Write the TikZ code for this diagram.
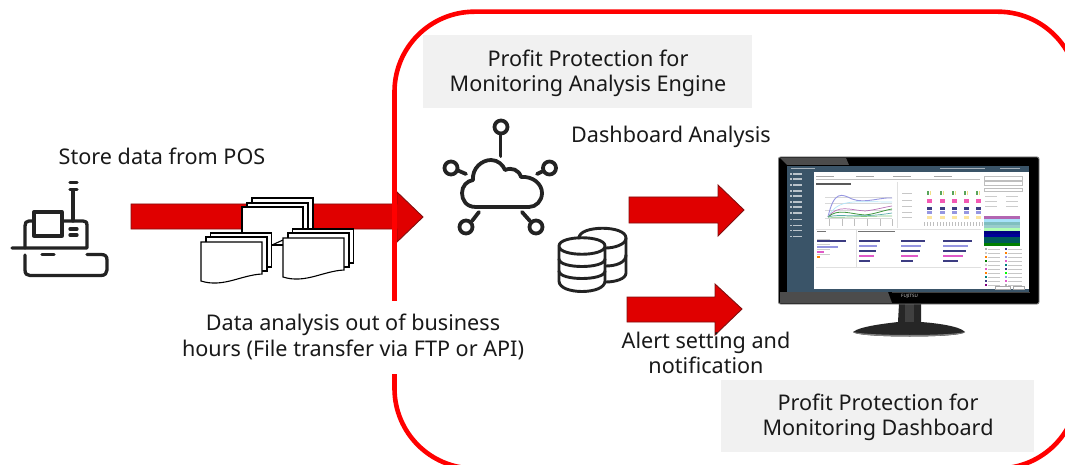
\documentclass[tikz,border=0pt]{standalone}
\usepackage{fontspec}
\setmainfont{Noto Sans}
\definecolor{fred}{RGB}{224,0,0}
\definecolor{fdark}{RGB}{130,15,15}
\definecolor{frame}{RGB}{255,0,0}
\definecolor{ink}{RGB}{35,35,35}
\definecolor{panel}{RGB}{241,241,241}
\definecolor{side}{RGB}{58,84,104}
\definecolor{navy}{RGB}{60,60,130}
\definecolor{peri}{RGB}{150,150,225}
\definecolor{pink}{RGB}{225,90,200}
\tikzset{
 lab/.style={font=\fontsize{21.6}{25.2}\selectfont,align=center,text=black!90,inner sep=0pt},
 bigarrow/.style={fill=fred,draw=fdark,line width=.9pt,line join=miter},
 icon/.style={draw=ink,line width=3.3pt,line cap=round,line join=round},
 hub/.style={draw=ink,line width=3.8pt,line cap=round,line join=round},
 db/.style={draw=ink,line width=2.9pt,line cap=round,line join=round},
 sheet/.style={fill=white,draw=black,line width=1.1pt,line join=miter},
}
\newcommand{\fileset}[3]{%
 \begin{scope}[shift={(#1,#2)},scale=#3]
  \draw[sheet] (9.5,-9) rectangle (70.5,25);
  \draw[sheet] (5,-5) rectangle (66,29);
  \draw[sheet] (0,0) -- (61,0) -- (61,32) .. controls (40,33) and (22,46) .. (0,39) -- cycle;
 \end{scope}}
\begin{document}
\begin{tikzpicture}[x=1pt,y=-1pt]
\useasboundingbox (0,0) rectangle (1065,465);
\fill[white] (0,0) rectangle (1065,465);
% arrow 1
\draw[bigarrow] (131,204) -- (397,204) -- (397,192) -- (423,217) -- (397,242) -- (397,229) -- (131,229) -- cycle;
% frame
\begin{scope}
\clip (0,0) rectangle (1065,465);
\draw[frame,line width=4.6pt,rounded corners=80pt] (394.5,11.7) rectangle (1078,468.5);
\end{scope}
% panels
\fill[panel] (423,35.5) rectangle (752,108);
\fill[panel] (721,380) rectangle (1034,452);
\node[lab] (t1) at (588,73) {Profit Protection for\\Monitoring Analysis Engine};
\node[lab] (t2) at (878,417) {Profit Protection for\\Monitoring Dashboard};
\node[lab] (t3) at (162,156) {Store data from POS};
\node[lab] (t4) at (671,137) {Dashboard Analysis};
\node[lab,fill=white,minimum height=73pt] (t5) at (353,337) {Data analysis out of business\\hours (File transfer via FTP or API)};
% POS icon
\draw[icon] (12,248) -- (87,248) -- (87,226) .. controls (87,222) and (86,221) .. (83,221) -- (62,221);
\draw[icon] (33,221) -- (29,221) .. controls (26,221) and (25,223) .. (25,226) -- (25,248);
\draw[icon] (34,212) rectangle (62,236);
\draw[icon] (73,221) -- (73,190);
\draw[icon] (70,189.5) -- (77,189.5);
\draw[icon] (70,182.5) -- (77,182.5);
\draw[icon] (70,229) -- (77,229);
\draw[icon] (70,235) -- (77,235);
\draw[icon] (25,255) -- (25,270) .. controls (25,274) and (27,275.5) .. (30,275.5) -- (101,275.5) .. controls (105,275.5) and (107,273) .. (107,270) -- (107,260) .. controls (107,256) and (105,254.5) .. (101,254.5) -- (87,254.5);
\draw[icon] (42,254.5) -- (54,254.5);
% files
\draw[sheet] (252,198) rectangle (313,245);
\draw[sheet] (247,203) rectangle (308,245);
\draw[sheet] (242,207) rectangle (303,245);
\draw[sheet] (272,245) -- (283,240);
\fileset{201}{242}{1}
\fileset{283}{238}{1}
% cloud icon
\draw[hub] (476,207) .. controls (466,207) and (462,200) .. (462,193)
  .. controls (462,186) and (467,181) .. (473,180)
  .. controls (472,168) and (482,160) .. (491,160)
  .. controls (498,160) and (503,165) .. (505,170)
  .. controls (512,167) and (519,170) .. (521,177)
  .. controls (533,176) and (542,184) .. (542,193)
  .. controls (542,201) and (536,207) .. (529,207) -- cycle;
\draw[hub] (500.5,156) -- (500.5,135);
\draw[hub] (501,127) circle (6.5);
\draw[hub] (466,174) -- (458,170.5);
\draw[hub] (451,168) circle (6.5);
\draw[hub] (537,174) -- (543,171);
\draw[hub] (549.5,168) circle (6.5);
\draw[hub] (479,212) -- (472,221);
\draw[hub] (466,227) circle (6.5);
\draw[hub] (522,212) -- (530,221);
\draw[hub] (536,227) circle (6.5);
% database icon
\draw[db] (579,238) .. controls (579,225) and (626,225) .. (626,238) -- (626,273) .. controls (626,279) and (615,282) .. (606,282);
\draw[db] (626,238) .. controls (626,245) and (613,248) .. (606,248);
\draw[db] (606,266) .. controls (615,266) and (626,263) .. (626,255);
\fill[white] (560,244) rectangle (604,290);
\draw[db] (559,246) .. controls (559,235) and (605,235) .. (605,246) .. controls (605,257) and (559,257) .. (559,246) -- (559,281) .. controls (559,295) and (605,295) .. (605,281) -- (605,246);
\draw[db] (559,259) .. controls (559,269) and (605,269) .. (605,259);
\draw[db] (559,271) .. controls (559,281) and (605,281) .. (605,271);
% small arrows
\draw[bigarrow] (629,197) -- (718,197) -- (718,185) -- (744,210) -- (718,236) -- (718,223) -- (629,223) -- cycle;
\draw[bigarrow] (627,297) -- (715,297) -- (715,284) -- (742,309) -- (715,335) -- (715,322) -- (627,322) -- cycle;
\node[lab] (t6) at (706,353) {Alert setting and\\notification};
% monitor
\fill[black!85] (853,332) .. controls (860,326) and (890,323) .. (898,322) -- (899,304) -- (921,304) -- (921,322) .. controls (935,323) and (960,326) .. (965,332) .. controls (962,338) and (858,338) .. (853,332) -- cycle;
\fill[black!50] (853,332) .. controls (870,336) and (950,336) .. (965,332) .. controls (960,338) and (858,338) .. (853,332) -- cycle;
\fill[black!75] (905,304) rectangle (914,322);
\fill[black,rounded corners=2pt,draw=black!50,line width=.9pt] (778.5,157) rectangle (1039,304);
\fill[black!70] (780,158) -- (846,158) -- (849,165) -- (787,165) -- cycle;
\fill[black!70] (780,292) -- (888,292) -- (892,303) -- (780,303) -- cycle;
\fill[black!75] (892,292) -- (1030,292) -- (1030,293) -- (892,293) -- cycle;
\fill[white] (787,166) rectangle (1029,291);
\fill[side] (787,166) rectangle (1029,172);
\fill[side] (787,166) rectangle (814,291);
\fill[side] (787,289) rectangle (1029,292);
\foreach \yy in {174,179,185,191,196,202,207,213,219,225,230,236} {
 \fill[white!65!side] (790,\yy-.5) rectangle (792,\yy+.8);
 \fill[white!65!side] (793,\yy-.5) rectangle (802,\yy+.8);
}
\fill[white!55!side] (791,168.5) rectangle (815,169.5);
\fill[white!55!side] (940,168.5) rectangle (985,169.5);
\fill[white!55!side] (1000,168.5) rectangle (1020,169.5);
% filters
\draw[black!25,line width=.4pt] (816,179) -- (980,179);
\foreach \xx in {816,856,893,934} \draw[black!35,line width=.6pt] (\xx,176.5) -- (\xx+18,176.5);
\fill[black!65] (816,183.5) rectangle (851,185.5);
\draw[black!12,line width=.5pt] (816,229) -- (981,229) (816,267) -- (981,267) (856,229) -- (856,267) (897,182) -- (897,228);
% line chart
\draw[black!15,line width=.4pt] (825,197) -- (892,197) (825,203) -- (892,203) (825,210) -- (892,210) (825,218) -- (892,218);
\foreach \xx in {829,842,854,867,880,892} \draw[black!25,line width=.7pt] (\xx,219) -- (\xx,226);
\draw[peri,line width=.9pt] (828,217) .. controls (834,190) and (842,194) .. (852,199) .. controls (865,204) and (880,197) .. (892,198);
\draw[cyan!30,line width=.7pt] (828,217) .. controls (838,198) and (855,202) .. (892,202);
\draw[violet!55,line width=.7pt] (828,217) .. controls (838,204) and (850,210) .. (865,211) .. controls (875,210) and (885,207) .. (892,206);
\draw[green!45!black!75,line width=.8pt] (828,217) .. controls (838,208) and (850,214) .. (865,215) .. controls (875,214) and (885,210) .. (892,209);
\draw[teal!65,line width=.7pt] (828,217) .. controls (840,213) and (855,219) .. (892,213);
\draw[green!55!black!50,line width=.7pt] (828,217) .. controls (842,218) and (860,216) .. (892,216);
% heat matrix
\foreach \yy in {193,200,206,212,217} \fill[black!22] (902,\yy) rectangle (912,\yy+1);
\foreach \cx in {927,940,952,964,976} {
 \fill[green!45!black!65] (\cx,191) rectangle (\cx+2,195);
 \fill[yellow!55!brown!55] (\cx+2.5,191) rectangle (\cx+4,195);
 \fill[magenta!65] (\cx,199) rectangle (\cx+5,203);
 \fill[navy] (\cx,207) rectangle (\cx+5,210);
 \fill[peri] (\cx,211.5) rectangle (\cx+5,214.5);
 \fill[yellow!50!orange!35] (\cx,216) rectangle (\cx+5,219);
 \foreach \dd in {-3,0,3,6} \fill[black!25] (\cx+\dd,222) rectangle (\cx+\dd+.8,226);
}
% lower bars
\foreach \yy/\ww/\cc in {240/29/navy,245.5/21/peri,250.5/7/pink,255.5/3/orange}
  \fill[\cc] (817,\yy) rectangle (817+\ww,\yy+2.2);
\foreach \yy in {238.5,243.5,248.5,253.5} \fill[black!20] (817,\yy) rectangle (830,\yy+.6);
\foreach \xx/\ww in {859/21,901/24,943/29} {
  \fill[navy] (\xx,240) rectangle (\xx+\ww,242.2);
  \fill[peri] (\xx,245) rectangle (\xx+\ww*.85,247.2);
  \fill[navy] (\xx,250) rectangle (\xx+\ww*.8,252.2);
  \fill[pink] (\xx,255) rectangle (\xx+\ww*.7,257.2);
  \fill[navy] (\xx,260) rectangle (\xx+\ww*.5,262.2);
}
\fill[black!55] (858,231) rectangle (895,232);
\fill[black!55] (817,231) rectangle (826,232);
% right column
\draw[black!25,line width=.4pt] (984,176) rectangle (1022,180) (984,181.5) rectangle (1022,185) (984,188) rectangle (1022,191);
\foreach \xx in {985,1006} \foreach \yy in {196,201,206} \fill[black!20] (\xx,\yy) rectangle (\xx+12,\yy+1);
\foreach \yy/\cc in {216/violet!60,219/cyan!35,222/teal!50,225/teal!40,228/green!30,231/blue!50!black,234/blue!60!black,237/teal!70!black,240/teal!70!black,243/green!50!black}
  \fill[\cc] (984,\yy) rectangle (1020,\yy+3);
\foreach \yy/\ca/\cb in {248/black!30/navy,252/black!20/orange,256/orange/peri,260/green!50!black/pink,264/black!20/teal,268/pink/navy,272/orange/green,276/teal/peri,280/navy/pink,284/violet/black!30} {
 \fill[\ca] (985,\yy) rectangle (987,\yy+2);
 \fill[black!22] (988,\yy+.5) rectangle (1000,\yy+1.4);
 \fill[\cb] (1005,\yy) rectangle (1007,\yy+2);
 \fill[black!22] (1008,\yy+.5) rectangle (1022,\yy+1.4);
}
\draw[black!35,line width=.4pt] (995,286) rectangle (1010,289) (1013,286) rectangle (1024,289);
\node[font=\fontsize{4.5}{5}\selectfont\bfseries,text=black!20,inner sep=0pt] (logo) at (909.5,296) {FUJITSU};
\end{tikzpicture}
\end{document}
